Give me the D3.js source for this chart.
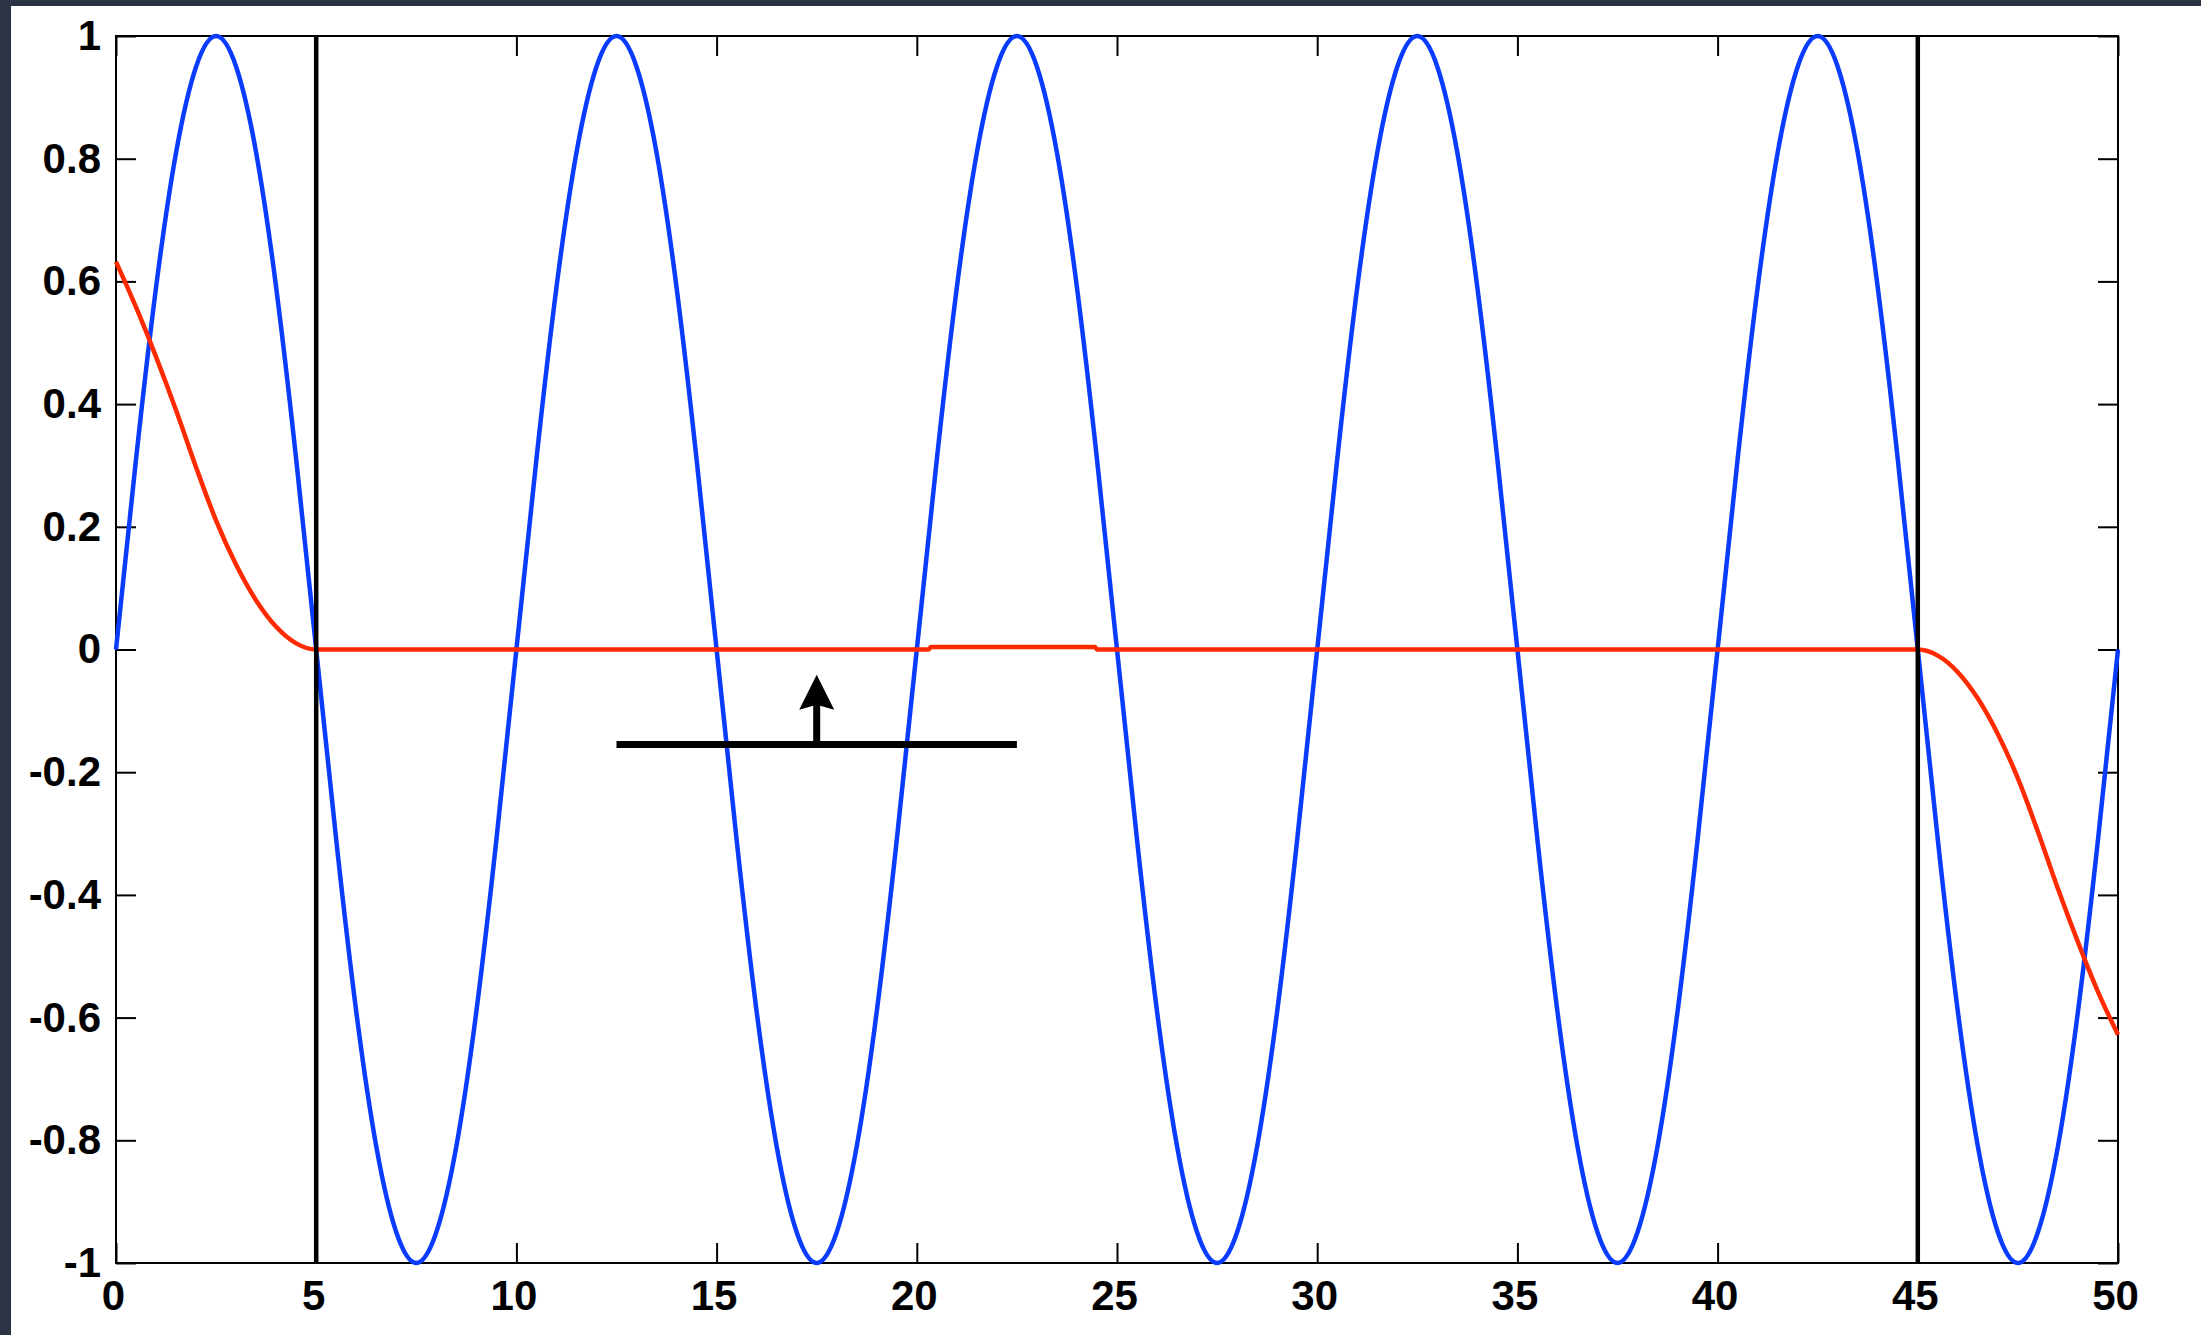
<!DOCTYPE html>
<html>
<head>
<meta charset="utf-8">
<script src="https://cdn.jsdelivr.net/npm/d3@7"></script>
<style>
  html, body { margin: 0; padding: 0; background: #2c3345; overflow: hidden; }
  svg { display: block; }
  .tick text { font-family: "Liberation Sans", Arial, sans-serif; font-weight: bold; font-size: 42px; fill: #000; }
</style>
</head>
<body>
<div id="chart"></div>
<script>
'use strict';

// tick values
var xTicks = [0, 5, 10, 15, 20, 25, 30, 35, 40, 45, 50];
var yTicks = [-1, -0.8, -0.6, -0.4, -0.2, 0, 0.2, 0.4, 0.6, 0.8, 1];

// blue series, read every 0.5 on x
var blueX = d3.range(0, 50.001, 0.5);
var blueY = [
  0, 0.31, 0.59, 0.81, 0.95, 1, 0.95, 0.81, 0.59, 0.31,
  0, -0.31, -0.59, -0.81, -0.95, -1, -0.95, -0.81, -0.59, -0.31,
  0, 0.31, 0.59, 0.81, 0.95, 1, 0.95, 0.81, 0.59, 0.31,
  0, -0.31, -0.59, -0.81, -0.95, -1, -0.95, -0.81, -0.59, -0.31,
  0, 0.31, 0.59, 0.81, 0.95, 1, 0.95, 0.81, 0.59, 0.31,
  0, -0.31, -0.59, -0.81, -0.95, -1, -0.95, -0.81, -0.59, -0.31,
  0, 0.31, 0.59, 0.81, 0.95, 1, 0.95, 0.81, 0.59, 0.31,
  0, -0.31, -0.59, -0.81, -0.95, -1, -0.95, -0.81, -0.59, -0.31,
  0, 0.31, 0.59, 0.81, 0.95, 1, 0.95, 0.81, 0.59, 0.31,
  0, -0.31, -0.59, -0.81, -0.95, -1, -0.95, -0.81, -0.59, -0.31,
  0
];

// red series
var redX = [0, 0.5, 1, 1.5, 2, 2.5, 3, 3.5, 4, 4.5, 5,
            20.3, 20.35, 24.45, 24.5,
            45, 45.5, 46, 46.5, 47, 47.5, 48, 48.5, 49, 49.5, 50];
var redY = [0.632, 0.558, 0.477, 0.39, 0.297, 0.21, 0.138, 0.08, 0.037, 0.01, 0,
            0, 0.004, 0.004, 0,
            0, -0.01, -0.037, -0.08, -0.138, -0.21, -0.297, -0.39, -0.477, -0.558, -0.628];

// black vertical markers
var markerX = [5, 45];

// annotation: horizontal bar and the arrow on it
var barX = [12.5, 22.5];
var barY = -0.155;
var arrowX = 17.5;
var arrowTip = -0.041;

var width = 2201, height = 1335;

var svg = d3.select('#chart').append('svg')
  .attr('width', width)
  .attr('height', height);

// white panel
svg.append('rect')
  .attr('x', 11).attr('y', 6)
  .attr('width', width - 11).attr('height', height - 6)
  .attr('fill', '#fff');

var x = d3.scaleLinear().domain([0, 50]).range([116, 2118]);
var y = d3.scaleLinear().domain([-1, 1]).range([1263, 36]);

var fmt = function(d){ return d3.format('')(+d.toFixed(1)).replace('\u2212', '-'); };

// axes with inward ticks
var gB = svg.append('g').attr('transform', 'translate(0,' + y(-1) + ')')
  .call(d3.axisBottom(x).tickValues(xTicks).tickSizeInner(-20).tickSizeOuter(0).tickPadding(17).tickFormat(fmt));
gB.selectAll('text').attr('dx', '-3');

var gL = svg.append('g').attr('transform', 'translate(' + x(0) + ',0)')
  .call(d3.axisLeft(y).tickValues(yTicks).tickSizeInner(-20).tickSizeOuter(0).tickPadding(15).tickFormat(fmt));

svg.append('g').attr('transform', 'translate(0,' + y(1) + ')')
  .call(d3.axisTop(x).tickValues(xTicks).tickSizeInner(-20).tickSizeOuter(0).tickFormat(''));
svg.append('g').attr('transform', 'translate(' + x(50) + ',0)')
  .call(d3.axisRight(y).tickValues(yTicks).tickSizeInner(-20).tickSizeOuter(0).tickFormat(''));

svg.selectAll('.domain').remove();
svg.selectAll('.tick line').attr('stroke', '#000').attr('stroke-width', 2);

// frame
svg.append('rect')
  .attr('x', x(0)).attr('y', y(1))
  .attr('width', x(50) - x(0)).attr('height', y(-1) - y(1))
  .attr('fill', 'none').attr('stroke', '#000').attr('stroke-width', 2);

// blue line
var blueLine = d3.line()
  .x(function(d, i){ return x(blueX[i]); })
  .y(function(d){ return y(d); })
  .curve(d3.curveNatural);

svg.append('path')
  .datum(blueY)
  .attr('d', blueLine)
  .attr('fill', 'none')
  .attr('stroke', '#0a3cff')
  .attr('stroke-width', 4.5);

// red line
var redLine = d3.line()
  .x(function(d, i){ return x(redX[i]); })
  .y(function(d){ return y(d); })
  .curve(d3.curveMonotoneX);

svg.append('path')
  .datum(redY)
  .attr('d', redLine)
  .attr('fill', 'none')
  .attr('stroke', '#ff2a00')
  .attr('stroke-width', 4.5);

// vertical markers
svg.selectAll('.marker').data(markerX).enter().append('line')
  .attr('class', 'marker')
  .attr('x1', function(d){ return x(d); })
  .attr('x2', function(d){ return x(d); })
  .attr('y1', y(1)).attr('y2', y(-1))
  .attr('stroke', '#000').attr('stroke-width', 4.5);

// bar + arrow
svg.append('line')
  .attr('x1', x(barX[0])).attr('x2', x(barX[1]))
  .attr('y1', y(barY)).attr('y2', y(barY))
  .attr('stroke', '#000').attr('stroke-width', 7);

var ax = x(arrowX), tipY = y(arrowTip);
svg.append('line')
  .attr('x1', ax).attr('x2', ax)
  .attr('y1', y(barY)).attr('y2', tipY + 28)
  .attr('stroke', '#000').attr('stroke-width', 7);

svg.append('path')
  .attr('d', 'M' + ax + ',' + tipY +
    'L' + (ax + 17.5) + ',' + (tipY + 35) +
    'L' + ax + ',' + (tipY + 30) +
    'L' + (ax - 17.5) + ',' + (tipY + 35) + 'Z')
  .attr('fill', '#000');
</script>
</body>
</html>
